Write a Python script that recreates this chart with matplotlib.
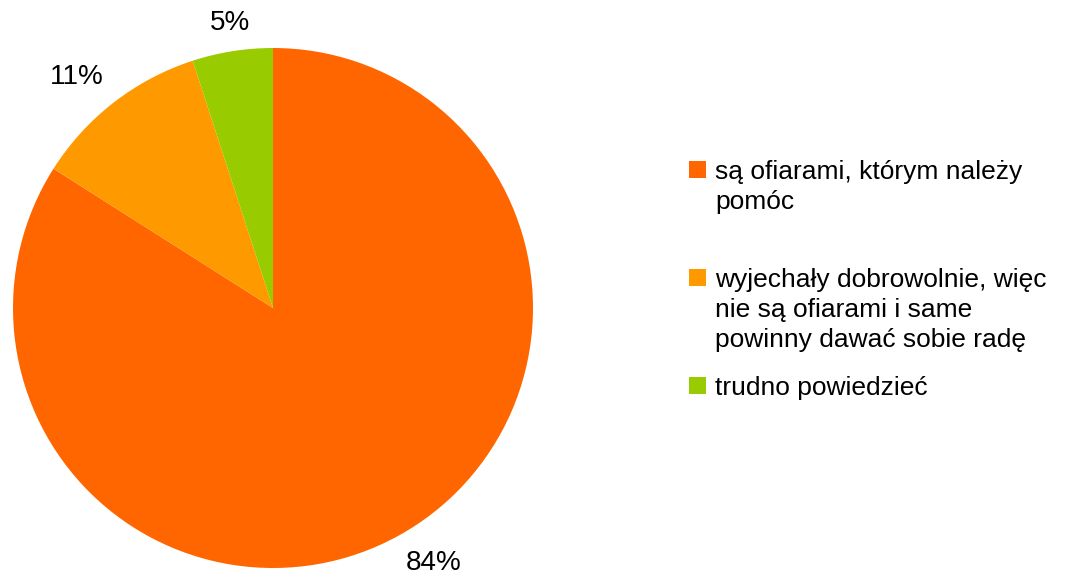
import numpy as np
import matplotlib.pyplot as plt
from matplotlib.patches import Rectangle

plt.rcParams['font.family'] = ['Liberation Sans', 'DejaVu Sans']

# survey answers
labels = ["są ofiarami, którym należy\npomóc",
          "wyjechały dobrowolnie, więc\nnie są ofiarami i same\npowinny dawać sobie radę",
          "trudno powiedzieć"]
shares = [84, 11, 5]
colors = ["#ff6600", "#ff9900", "#99cc00"]

W, H = 1072, 578
fig = plt.figure(figsize=(W / 100, H / 100), dpi=100)

# pie: centre (273, 308) px, radius 260 px
cx, cy, r = 273, 308, 260
ax = fig.add_axes([(cx - r) / W, (H - cy - r) / H, 2 * r / W, 2 * r / H])
wedges, _ = ax.pie(shares, colors=colors, startangle=90, counterclock=False,
                   radius=1, wedgeprops=dict(linewidth=0))

# percentage labels just outside the rim, anchored by the side they sit on
for w, v in zip(wedges, shares):
    mid = np.deg2rad((w.theta1 + w.theta2) / 2)
    c, s = np.cos(mid), np.sin(mid)
    ha = "left" if c > 0.3 else ("right" if c < -0.3 else "center")
    va = "bottom" if s > 0.3 else ("top" if s < -0.3 else "center")
    ax.text(1.06 * c, 1.06 * s, f"{v}%", ha=ha, va=va, fontsize=20)

ax.set_xlim(-1, 1)
ax.set_ylim(-1, 1)
ax.set_axis_off()

# legend drawn by hand, one slot per answer
rows_y = [169, 277, 385]
for lab, col, y in zip(labels, colors, rows_y):
    fig.patches.append(Rectangle((689 / W, 1 - (y + 8.5) / H), 17 / W, 17 / H,
                                 transform=fig.transFigure, facecolor=col,
                                 edgecolor="none"))
    fig.text(715 / W, 1 - (y - 9) / H, lab, fontsize=19, va="top", ha="left",
             linespacing=1.32)

fig.savefig("out.png", dpi=100)
